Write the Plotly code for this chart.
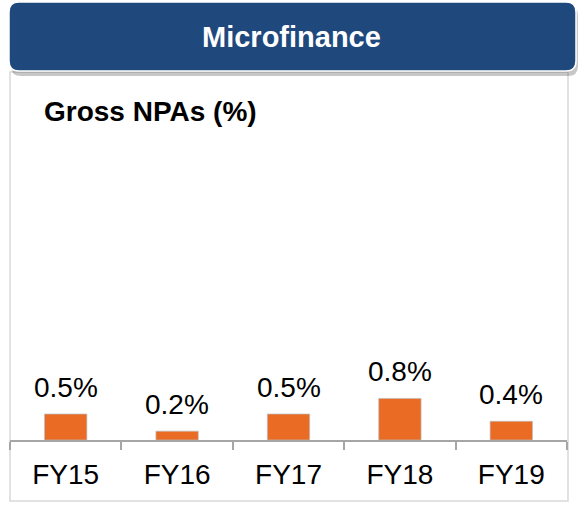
import plotly.graph_objects as go

categories = ["FY15", "FY16", "FY17", "FY18", "FY19"]
gross_npa = [0.5, 0.17, 0.5, 0.8, 0.36]
header_text = "Microfinance"
chart_title = "Gross NPAs (%)"

W, H = 586, 505
L, R, T, B = 10, 19, 140, 65
PW, PH = W - L - R, H - T - B
FONT = "Liberation Sans, Arial, sans-serif"

def px_x(px):
    return (px - L) / PW

def px_y(py):
    return (H - B - py) / PH

def rounded_rect(x0, y0, x1, y1, r):
    def P(x, y):
        return f"{px_x(x):.5f},{px_y(y):.5f}"
    return (
        f"M {P(x0 + r, y0)} L {P(x1 - r, y0)} Q {P(x1, y0)} {P(x1, y0 + r)} "
        f"L {P(x1, y1 - r)} Q {P(x1, y1)} {P(x1 - r, y1)} "
        f"L {P(x0 + r, y1)} Q {P(x0, y1)} {P(x0, y1 - r)} "
        f"L {P(x0, y0 + r)} Q {P(x0, y0)} {P(x0 + r, y0)} Z"
    )

fig = go.Figure()
fig.add_trace(go.Bar(
    x=categories, y=gross_npa,
    marker=dict(color="#E96B24", line=dict(color="rgba(190,190,190,0.7)", width=1)),
    width=0.38,
    hoverinfo="skip",
))

annotations = []
for c, v in zip(categories, gross_npa):
    annotations.append(dict(
        x=c, y=v, xref="x", yref="y", text=f"{v:.1f}%", showarrow=False,
        yanchor="bottom", yshift=9,
        font=dict(family=FONT, size=28, color="#000000"),
    ))

annotations.append(dict(
    x=px_x(292), y=px_y(37), xref="paper", yref="paper", text=f"<b>{header_text}</b>",
    showarrow=False, xanchor="center", yanchor="middle",
    font=dict(family=FONT, size=29, color="#FFFFFF"),
))
annotations.append(dict(
    x=px_x(42), y=px_y(111), xref="paper", yref="paper", text=f"<b>{chart_title}</b>",
    showarrow=False, xanchor="left", yanchor="middle",
    font=dict(family=FONT, size=28, color="#000000"),
))

shapes = [
    dict(type="rect", xref="paper", yref="paper",
         x0=px_x(10), x1=px_x(568), y0=px_y(501), y1=px_y(72),
         line=dict(color="#D9D9D9", width=1.5), fillcolor="rgba(0,0,0,0)", layer="below"),
    dict(type="path", xref="paper", yref="paper",
         path=rounded_rect(11, 6, 578, 76, 10),
         line=dict(width=0), fillcolor="rgba(0,0,0,0.22)"),
    dict(type="path", xref="paper", yref="paper",
         path=rounded_rect(9, 2, 576, 71, 10),
         line=dict(color="#FFFFFF", width=1.5), fillcolor="#1F497D"),
]

fig.update_layout(
    width=W, height=H,
    margin=dict(l=L, r=R, t=T, b=B, pad=0),
    paper_bgcolor="white", plot_bgcolor="white",
    showlegend=False,
    annotations=annotations, shapes=shapes,
    xaxis=dict(
        type="category", showline=True, linecolor="#A6A6A6", linewidth=1.5,
        ticks="outside", tickson="boundaries", ticklen=8, tickcolor="#A6A6A6", tickwidth=1.5,
        ticklabelstandoff=9,
        tickfont=dict(family=FONT, size=28, color="#000000"),
        showgrid=False, zeroline=False, fixedrange=True,
    ),
    yaxis=dict(range=[0, PH / 52.0], visible=False, showgrid=False, zeroline=False, fixedrange=True),
)

fig.write_html(
    "out.html",
    config={"displayModeBar": False},
    post_script="document.body.style.margin='0';document.body.style.padding='0';",
)
